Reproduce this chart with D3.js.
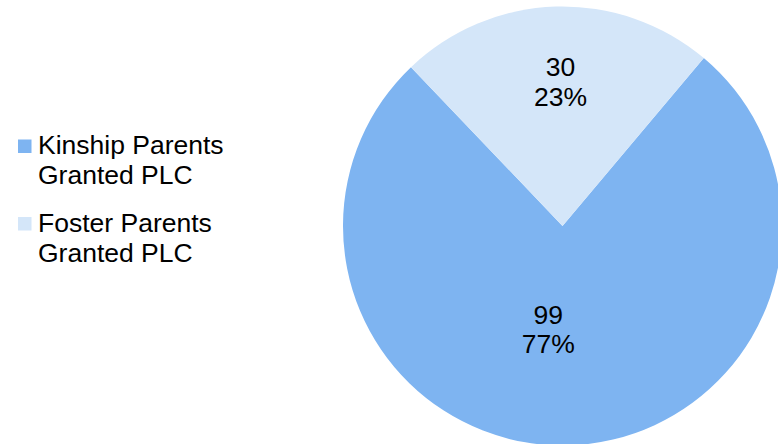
<!DOCTYPE html>
<html>
<head>
<meta charset="utf-8">
<script src="https://cdn.jsdelivr.net/npm/d3@7"></script>
<style>
  html, body { margin: 0; padding: 0; background: #fff; }
  svg { display: block; font-family: "Liberation Sans", Arial, sans-serif; }
</style>
</head>
<body>
<svg id="chart" width="778" height="444"></svg>
<script>
// ---- data ----
const categories = ["Kinship Parents Granted PLC", "Foster Parents Granted PLC"];
const legendLines = [["Kinship Parents", "Granted PLC"], ["Foster Parents", "Granted PLC"]];
const values = [99, 30];
const percentLabels = ["77%", "23%"];
const colors = ["#7EB4F1", "#D4E6F9"];

// ---- layout ----
const W = 778, H = 444;
const cx = 562.5, cy = 226, R = 219.5;
const startDeg = 40.07;
// label placement (angle in degrees clockwise from top, radius fraction)
const labelPlace = [{ang: 188.1, rf: 0.458}, {ang: -0.8, rf: 0.676}];

const svg = d3.select("#chart");

const pie = d3.pie().sort(null).value(d => d)
  .startAngle(startDeg * Math.PI / 180)
  .endAngle(startDeg * Math.PI / 180 + 2 * Math.PI);
const arcs = pie(values);
const arc = d3.arc().innerRadius(0).outerRadius(R);

const g = svg.append("g").attr("transform", `translate(${cx},${cy})`);
g.selectAll("path").data(arcs).join("path")
  .attr("d", arc)
  .attr("fill", (d, i) => colors[i]);

const fs = 26.5, lh = 29.5;
arcs.forEach((d, i) => {
  const p = d3.pointRadial(labelPlace[i].ang * Math.PI / 180, labelPlace[i].rf * R);
  const t = g.append("text")
    .attr("x", p[0]).attr("y", p[1])
    .attr("text-anchor", "middle")
    .attr("font-size", fs)
    .attr("fill", "#000");
  t.append("tspan").attr("x", p[0]).attr("dy", "-0.06em").text(values[i]);
  t.append("tspan").attr("x", p[0]).attr("dy", lh).text(percentLabels[i]);
});

// ---- legend ----
const legend = svg.append("g");
const legY = [154, 231.5];
categories.forEach((c, i) => {
  const lg = legend.append("g").attr("class", "legend-item");
  lg.append("rect")
    .attr("x", 18).attr("y", legY[i] - 14.5)
    .attr("width", 13.5).attr("height", 13.5)
    .attr("fill", colors[i]);
  const t = lg.append("text")
    .attr("x", 38).attr("y", legY[i])
    .attr("font-size", fs).attr("fill", "#000");
  legendLines[i].forEach((ln, j) => {
    t.append("tspan").attr("x", 38).attr("dy", j === 0 ? 0 : 30).text(ln);
  });
});
</script>
</body>
</html>
